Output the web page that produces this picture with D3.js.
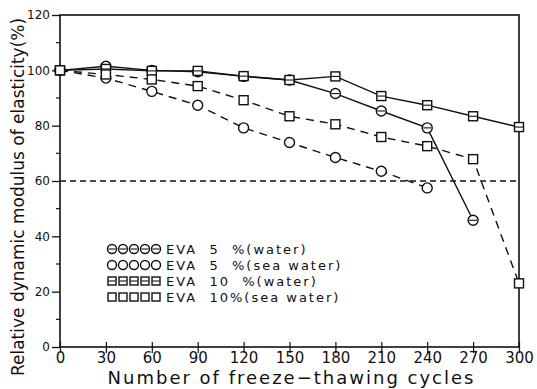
<!DOCTYPE html>
<html>
<head>
<meta charset="utf-8">
<script src="https://cdn.jsdelivr.net/npm/d3@7"></script>
<style>
  body { margin: 0; background: #fff; }
  text { font-family: "DejaVu Sans", sans-serif; fill: #111; }
</style>
</head>
<body>
<div id="chart"></div>
<script>
const cycles = [0, 30, 60, 90, 120, 150, 180, 210, 240, 270, 300];

// values (null = no point)
const eva5Water    = [100, 101.5, 100, 99.5, 97.8, 96.5, 91.6, 85.3, 79.2, 45.8, null];
const eva5Sea      = [100, 97.2, 92.4, 87.4, 79.2, 73.9, 68.5, 63.5, 57.5, null, null];
const eva10Water   = [100, 100.5, 99.8, 99.8, 97.9, 96.5, 97.8, 90.7, 87.4, 83.4, 79.5];
const eva10Sea     = [100, 98.5, 96.7, 94.3, 89.2, 83.4, 80.5, 75.9, 72.6, 67.9, 23];

const legendLabels = ["EVA  5  %(water)", "EVA  5  %(sea water)", "EVA  10  %(water)", "EVA  10%(sea water)"];
const yTicks = [0, 20, 40, 60, 80, 100, 120];
const xTicks = [0, 30, 60, 90, 120, 150, 180, 210, 240, 270, 300];
const limitLine = 60;

const series = [
  { values: eva5Water,  shape: "circle", dashed: false, bar: true },
  { values: eva5Sea,    shape: "circle", dashed: true,  bar: false },
  { values: eva10Water, shape: "square", dashed: false, bar: true },
  { values: eva10Sea,   shape: "square", dashed: true,  bar: false }
];

const W = 537, H = 389;
const svg = d3.select("#chart").append("svg")
  .attr("width", W).attr("height", H);

const x = d3.scaleLinear().domain([0, 300]).range([60, 519]);
const y = d3.scaleLinear().domain([0, 120]).range([347, 15]);

// frame
svg.append("rect")
  .attr("x", x(0)).attr("y", y(120))
  .attr("width", x(300) - x(0)).attr("height", y(0) - y(120))
  .attr("fill", "none").attr("stroke", "#111").attr("stroke-width", 1.6);

// y axis
const yAxis = d3.axisLeft(y).tickValues(yTicks).tickSize(8).tickPadding(2);
const gy = svg.append("g").attr("transform", `translate(${x(0)},0)`).call(yAxis);
gy.select(".domain").remove();
gy.selectAll("line").attr("stroke", "#111").attr("stroke-width", 1.3);
gy.selectAll("text").style("font-size", "12px").style("font-family", "DejaVu Sans, sans-serif");
// minor y ticks
svg.append("g").selectAll("line")
  .data(d3.range(10, 120, 20))
  .join("line")
  .attr("x1", x(0) - 4).attr("x2", x(0))
  .attr("y1", d => y(d)).attr("y2", d => y(d))
  .attr("stroke", "#111").attr("stroke-width", 1.2);

// x axis
const xAxis = d3.axisBottom(x).tickValues(xTicks).tickSize(6).tickPadding(-1);
const gx = svg.append("g").attr("transform", `translate(0,${y(0)})`).call(xAxis);
gx.select(".domain").remove();
gx.selectAll("line").attr("stroke", "#111").attr("stroke-width", 1.2).attr("y1", -5);
gx.selectAll("text").style("font-size", "15px").style("font-family", "DejaVu Sans, sans-serif");

// 60% limit line
svg.append("line")
  .attr("x1", x(0)).attr("x2", x(300))
  .attr("y1", y(limitLine)).attr("y2", y(limitLine))
  .attr("stroke", "#111").attr("stroke-width", 1.3)
  .attr("stroke-dasharray", "6,4");

// series lines
const line = d3.line()
  .defined(d => d[1] !== null)
  .x(d => x(d[0])).y(d => y(d[1]));

series.forEach(s => {
  const pts = cycles.map((c, i) => [c, s.values[i]]);
  svg.append("path")
    .datum(pts)
    .attr("d", line)
    .attr("fill", "none")
    .attr("stroke", "#111")
    .attr("stroke-width", 1.4)
    .attr("stroke-dasharray", s.dashed ? "8,6" : null);
});

function drawMarker(g, cx, cy, s, r = 5) {
  if (s.shape === "circle") {
    g.append("circle").attr("cx", cx).attr("cy", cy).attr("r", r)
      .attr("fill", "#fff").attr("stroke", "#111").attr("stroke-width", 1.4);
  } else {
    g.append("rect").attr("x", cx - r + 0.5).attr("y", cy - r + 0.5)
      .attr("width", 2 * r - 1).attr("height", 2 * r - 1)
      .attr("fill", "#fff").attr("stroke", "#111").attr("stroke-width", 1.4);
  }
  if (s.bar) {
    g.append("line").attr("x1", cx - r + 1).attr("x2", cx + r - 1)
      .attr("y1", cy).attr("y2", cy)
      .attr("stroke", "#111").attr("stroke-width", 1.1);
  }
}

// markers
series.forEach(s => {
  const g = svg.append("g");
  cycles.forEach((c, i) => {
    if (s.values[i] !== null) drawMarker(g, x(c), y(s.values[i]), s);
  });
});

// legend
const legend = svg.append("g");
legendLabels.forEach((label, i) => {
  const ly = 249 + i * 16;
  const g = legend.append("g");
  for (let k = 0; k < 5; k++) {
    drawMarker(g, 112 + k * 11, ly, series[i], 4.5);
  }
  g.append("text")
    .attr("x", 166).attr("y", ly + 5)
    .attr("xml:space", "preserve")
    .style("font-size", "13px")
    .style("letter-spacing", "2px")
    .text(label);
});

// axis titles
svg.append("text")
  .attr("x", (x(0) + x(300)) / 2 + 2).attr("y", 384)
  .attr("text-anchor", "middle")
  .style("font-size", "18px")
  .style("letter-spacing", "2px")
  .text("Number of freeze\u2212thawing cycles");

svg.append("text")
  .attr("transform", "translate(24,197) rotate(-90)")
  .attr("text-anchor", "middle")
  .style("font-size", "17px")
  .text("Relative dynamic modulus of elasticity(%)");
</script>
</body>
</html>
